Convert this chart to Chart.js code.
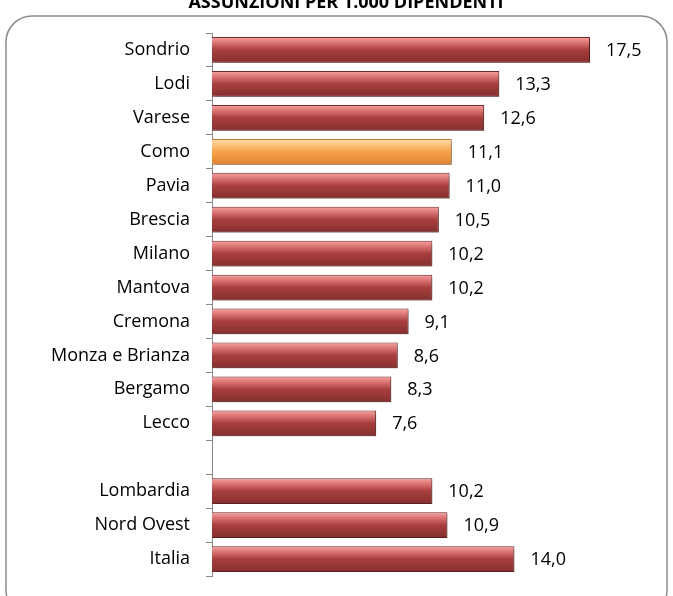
<!DOCTYPE html>
<html>
<head>
<meta charset="utf-8">
<script src="https://cdn.jsdelivr.net/npm/chart.js@4/dist/chart.umd.min.js"></script>
<style>
  html, body { margin: 0; padding: 0; background: #fff; }
  #wrap { width: 673px; height: 596px; }
</style>
</head>
<body>
<div id="wrap"><canvas id="assunzioni" width="673" height="596"></canvas></div>
<script>
const titolo = "ASSUNZIONI PER 1.000 DIPENDENTI";
const province = ["Sondrio", "Lodi", "Varese", "Como", "Pavia", "Brescia", "Milano", "Mantova",
  "Cremona", "Monza e Brianza", "Bergamo", "Lecco", "", "Lombardia", "Nord Ovest", "Italia"];
const valori = [17.5, 13.3, 12.6, 11.1, 11.0, 10.5, 10.2, 10.2, 9.1, 8.6, 8.3, 7.6, null, 10.2, 10.9, 14.0];
const evidenziata = "Como";

const fontName = "'Open Sans', 'Liberation Sans', sans-serif";

// gradient for each bar, built from the y scale
function barColor(c) {
  const chart = c.chart;
  const y = chart.scales.y;
  const isComo = province[c.dataIndex] === evidenziata;
  if (!y || !chart.chartArea) return isComo ? "#f6a04c" : "#a33c3b";
  const mid = y.getPixelForValue(c.dataIndex);
  const h = 26;
  const g = chart.ctx.createLinearGradient(0, mid - h / 2, 0, mid + h / 2);
  if (isComo) {
    g.addColorStop(0, "#ffe3ae");
    g.addColorStop(0.22, "#fcc47c");
    g.addColorStop(0.5, "#f7a24e");
    g.addColorStop(1, "#de842c");
  } else {
    g.addColorStop(0, "#f4a6a5");
    g.addColorStop(0.22, "#dc7473");
    g.addColorStop(0.5, "#a83f3e");
    g.addColorStop(1, "#842f2e");
  }
  return g;
}

const cornice = {
  id: "cornice",
  beforeDraw(chart) {
    const ctx = chart.ctx;
    ctx.save();
    ctx.fillStyle = "#fff";
    ctx.fillRect(0, 0, chart.width, chart.height);
    ctx.strokeStyle = "#8c8c8c";
    ctx.lineWidth = 1.5;
    ctx.beginPath();
    ctx.roundRect(6, 16, 661, 600, 26);
    ctx.stroke();
    ctx.fillStyle = "#000";
    ctx.font = "bold 18px " + fontName;
    ctx.textAlign = "center";
    ctx.textBaseline = "alphabetic";
    ctx.fillText(titolo, 346, 8);
    ctx.restore();
  },
  beforeDatasetsDraw(chart) {
    const ctx = chart.ctx;
    ctx.save();
    ctx.shadowColor = "rgba(0,0,0,0.35)";
    ctx.shadowOffsetX = 2;
    ctx.shadowOffsetY = 2;
    ctx.shadowBlur = 3;
  },
  afterDatasetsDraw(chart) {
    chart.ctx.restore();
    const ctx = chart.ctx;
    const x = chart.scales.x;
    const y = chart.scales.y;
    ctx.save();
    ctx.fillStyle = "#000";
    ctx.font = "18px " + fontName;
    ctx.textAlign = "left";
    ctx.textBaseline = "middle";
    valori.forEach(function (v, i) {
      if (v === null) return;
      ctx.fillText(v.toFixed(1).replace(".", ","), x.getPixelForValue(v) + 16, y.getPixelForValue(i) + 1);
    });
    ctx.restore();
  }
};

new Chart(document.getElementById("assunzioni").getContext("2d"), {
  type: "bar",
  data: {
    labels: province,
    datasets: [{
      data: valori,
      backgroundColor: barColor,
      borderColor: function (c) { return province[c.dataIndex] === evidenziata ? "#c8782a" : "#7a2828"; },
      borderWidth: 1,
      barPercentage: 0.76,
      categoryPercentage: 1
    }]
  },
  options: {
    indexAxis: "y",
    responsive: false,
    animation: false,
    layout: { padding: { top: 33, bottom: 20, left: 0, right: 29 } },
    plugins: { legend: { display: false }, tooltip: { enabled: false } },
    scales: {
      x: { display: false, min: 0, max: 20 },
      y: {
        afterFit: function (scale) {
          scale.width = 212;
          scale.paddingTop = 0;
          scale.paddingBottom = 0;
        },
        grid: { drawOnChartArea: false, color: "#888", tickLength: 6 },
        border: { color: "#888" },
        ticks: { color: "#000", padding: 16, font: { family: fontName, size: 18 } }
      }
    }
  },
  plugins: [cornice]
});
</script>
</body>
</html>
